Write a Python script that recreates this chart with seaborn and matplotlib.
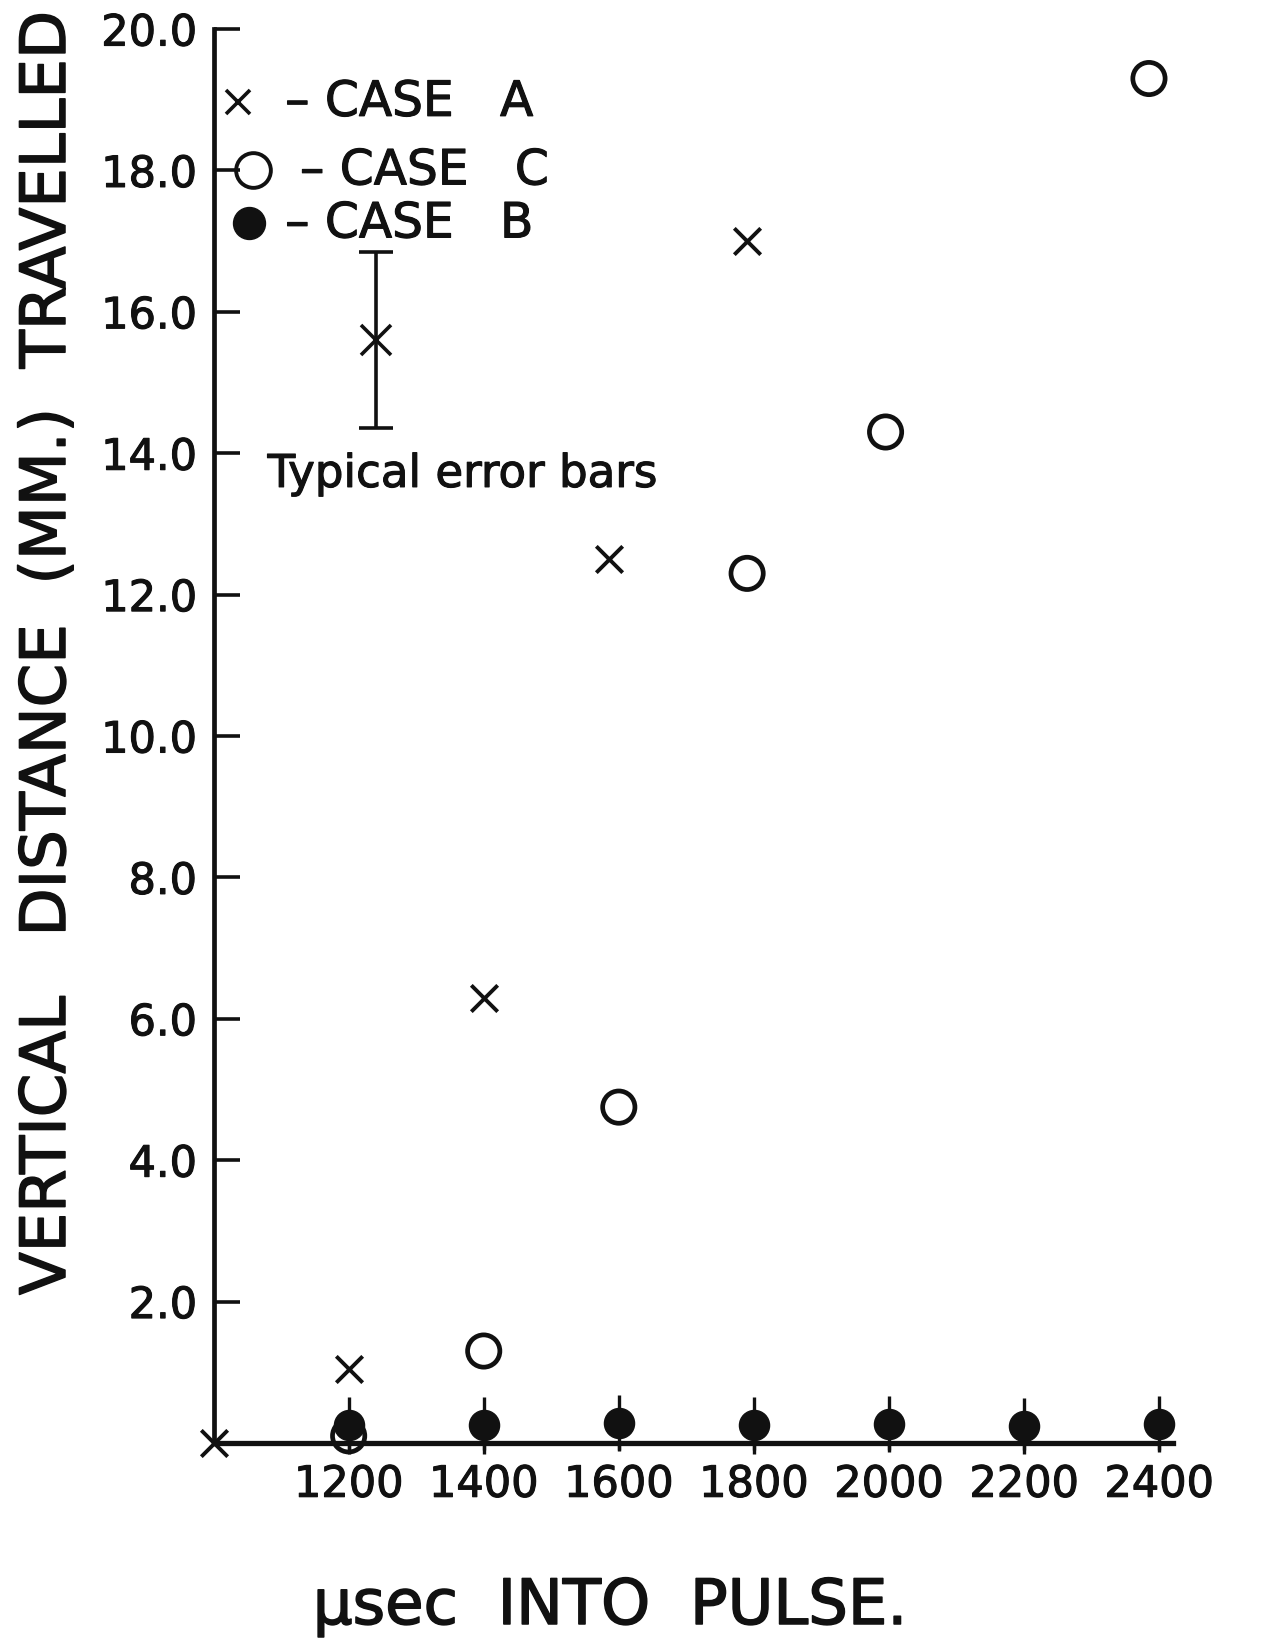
import matplotlib
matplotlib.use("Agg")
import matplotlib.pyplot as plt
import matplotlib.patheffects as pe
import seaborn as sns
import pandas as pd

# ---- data ----
case_a_x = [1000, 1200, 1400, 1585, 1790]
case_a_y = [0.0, 1.05, 6.3, 12.5, 17.0]

case_c_x = [1200, 1400, 1600, 1790, 1995, 2385]
case_c_y = [0.1, 1.3, 4.75, 12.3, 14.3, 19.3]

case_b_x = [1200, 1400, 1600, 1800, 2000, 2200, 2400]
case_b_y = [0.25, 0.25, 0.28, 0.25, 0.27, 0.24, 0.27]
case_b_err = [0.4, 0.4, 0.4, 0.4, 0.4, 0.4, 0.4]

typ_x = [1240]
typ_y = [15.6]
typ_err = [1.25]

x_ticks = [1200, 1400, 1600, 1800, 2000, 2200, 2400]
y_ticks = [2.0, 4.0, 6.0, 8.0, 10.0, 12.0, 14.0, 16.0, 18.0, 20.0]

legend_labels = ["\u2013 CASE   A", "\u2013 CASE   C", "\u2013 CASE   B"]

df_a = pd.DataFrame({"t": case_a_x, "d": case_a_y})
df_c = pd.DataFrame({"t": case_c_x, "d": case_c_y})
df_b = pd.DataFrame({"t": case_b_x, "d": case_b_y})

sns.set_theme(style="white")
plt.rcParams["font.family"] = ["DejaVu Sans"]

K = "#111111"
THICK = [pe.withStroke(linewidth=0.8, foreground=K)]
THICK_L = [pe.withStroke(linewidth=1.1, foreground=K)]

fig = plt.figure(figsize=(12.69, 16.5), dpi=100)
ax = fig.add_axes([0.1683, 0.1255, 0.7584, 0.8569])
ax.set_xlim(1000, 2425)
ax.set_ylim(0, 20)

# Case B: filled dots with small vertical bars
ax.errorbar(case_b_x, case_b_y, yerr=case_b_err, fmt="none", ecolor=K,
            elinewidth=2.4, capsize=0, clip_on=False, zorder=3)
sns.scatterplot(data=df_b, x="t", y="d", ax=ax, marker="o", s=470,
                color=K, edgecolor=K, linewidth=1, clip_on=False, zorder=4)

# Case C: open circles
sns.scatterplot(data=df_c, x="t", y="d", ax=ax, marker="o", s=540,
                facecolor="none", edgecolor=K, linewidth=3.4,
                clip_on=False, zorder=5)

# Case A: crosses
sns.scatterplot(data=df_a, x="t", y="d", ax=ax, marker="x", s=360,
                color=K, linewidth=2.8, clip_on=False, zorder=5)

# Typical error bar
ax.errorbar(typ_x, typ_y, yerr=typ_err, fmt="x", color=K, ms=21, mew=2.6,
            elinewidth=2.6, capsize=12, capthick=2.6, zorder=5)
ax.text(1080, 13.7, "Typical error bars", fontsize=32.5, color=K,
        ha="left", va="center", path_effects=THICK)

# Hand-drawn style legend
ax.plot([1036], [18.97], marker="x", ms=17, mew=2.6, color=K, ls="none",
        clip_on=False)
ax.plot([1058], [18.0], marker="o", ms=25, mfc="none", mew=2.8, mec=K,
        ls="none", clip_on=False)
ax.plot([1052], [17.25], marker="o", ms=23, color=K, ls="none",
        clip_on=False)
ax.text(1106, 18.97, legend_labels[0], fontsize=35, color=K, va="center",
        path_effects=THICK)
ax.text(1128, 18.0, legend_labels[1], fontsize=35, color=K, va="center",
        path_effects=THICK)
ax.text(1106, 17.25, legend_labels[2], fontsize=35, color=K, va="center",
        path_effects=THICK)

# Axes styling
for s in ["top", "right"]:
    ax.spines[s].set_visible(False)
ax.spines["left"].set_linewidth(3.4)
ax.spines["bottom"].set_linewidth(3.8)
ax.spines["left"].set_color(K)
ax.spines["bottom"].set_color(K)
ax.spines["bottom"].set_bounds(1000, 2420)

ax.set_xticks(x_ticks)
ax.set_xticklabels([str(v) for v in x_ticks])
ax.set_yticks(y_ticks)
ax.set_yticklabels(["%.1f" % v for v in y_ticks])
ax.tick_params(axis="y", direction="in", length=19, width=2.6, colors=K,
               labelsize=31, pad=12, left=True)
ax.tick_params(axis="x", direction="out", length=5, width=2.4, colors=K,
               labelsize=31, pad=10, bottom=True)
for lab in ax.get_xticklabels() + ax.get_yticklabels():
    lab.set_path_effects(THICK)
ax.set_xlabel("")
ax.set_ylabel("")
ax.grid(False)
ax.set_facecolor("white")

fig.text(610 / 1269, 1 - 1607 / 1650, "\u03bcsec  INTO  PULSE.",
         fontsize=45, color=K, ha="center", va="center",
         path_effects=THICK_L)
fig.text(48 / 1269, 1 - 653 / 1650,
         "VERTICAL   DISTANCE  (MM.)  TRAVELLED",
         fontsize=45, color=K, ha="center", va="center", rotation=90,
         path_effects=THICK_L)

fig.savefig("out.png", dpi=100, facecolor="white")
